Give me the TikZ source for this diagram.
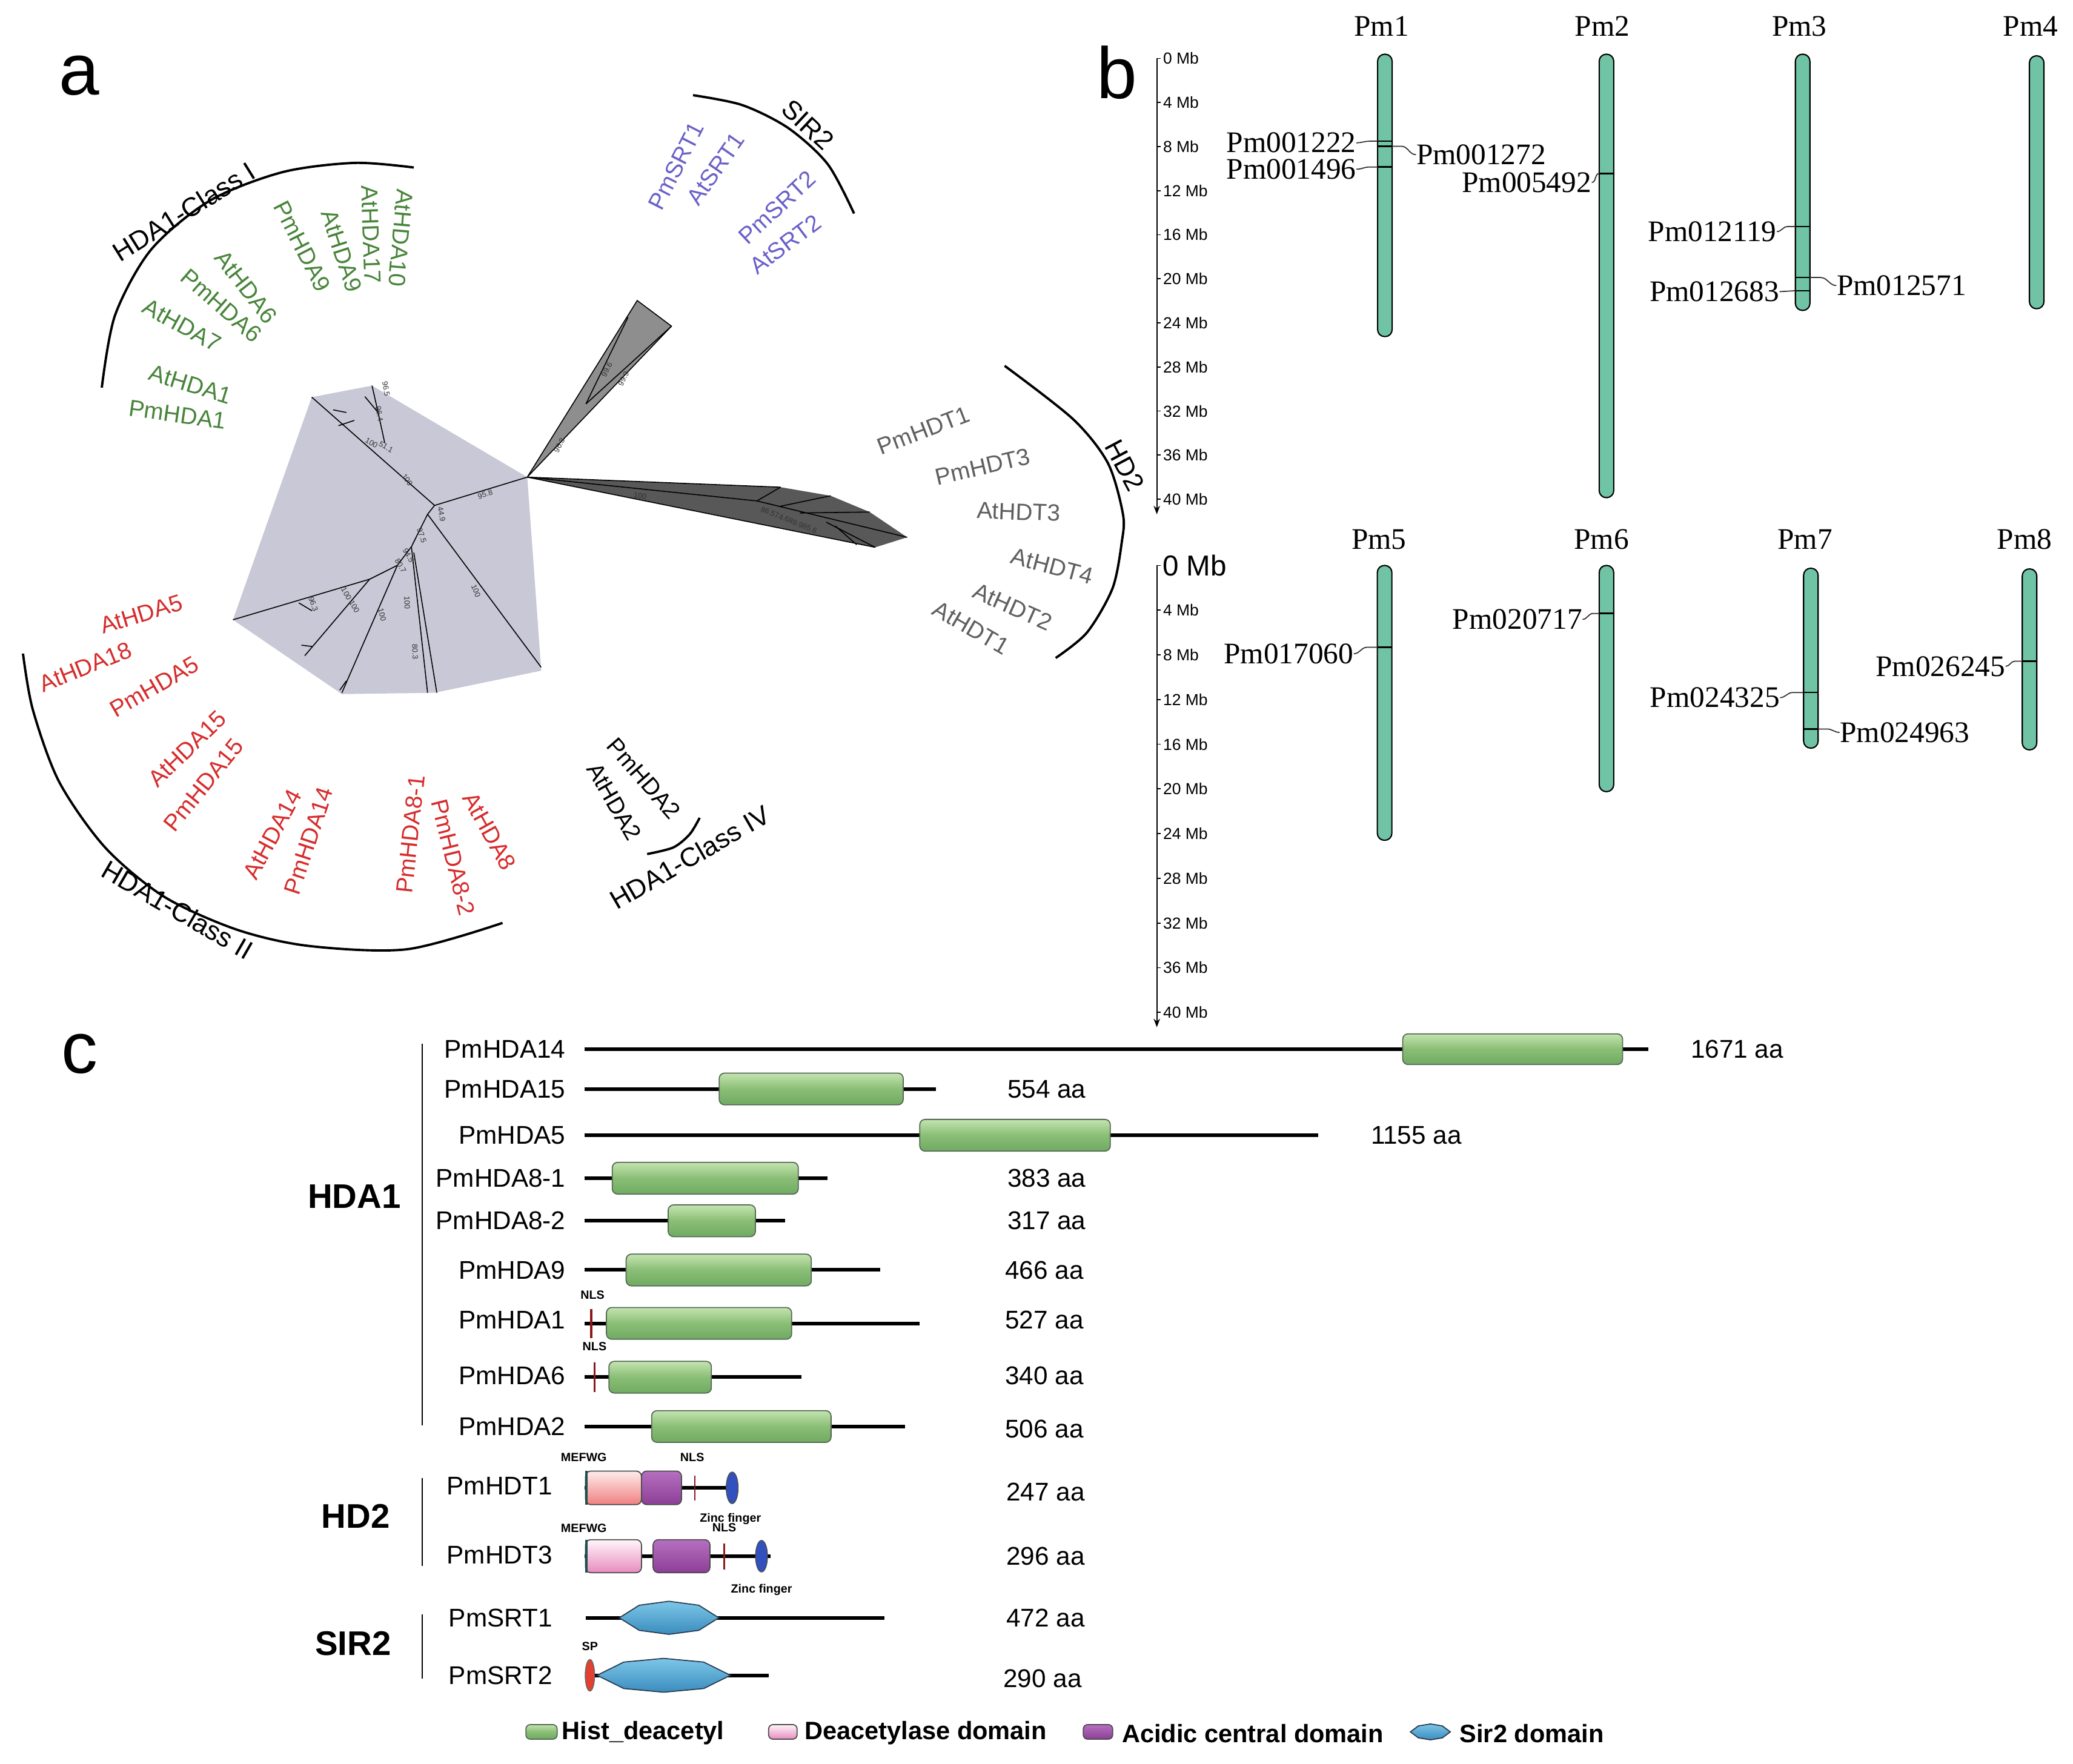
\documentclass[tikz,border=0pt]{standalone}
\usepackage{fontspec}
\setmainfont{Liberation Sans}
\newfontfamily\tms{Liberation Serif}
\usetikzlibrary{arrows.meta}
\definecolor{tgreen}{RGB}{72,132,58}
\definecolor{tred}{RGB}{214,44,44}
\definecolor{tpurple}{RGB}{106,96,200}
\definecolor{tgray}{RGB}{95,95,95}
\definecolor{cladeL}{RGB}{200,200,214}
\definecolor{cladeM}{RGB}{142,142,142}
\definecolor{cladeD}{RGB}{88,88,88}
\definecolor{chromc}{RGB}{112,196,165}
\definecolor{hgTop}{RGB}{196,228,176}
\definecolor{hgMid}{RGB}{138,190,118}
\definecolor{hgBot}{RGB}{112,170,98}
\definecolor{hgEdge}{RGB}{85,105,85}
\definecolor{pkTopA}{RGB}{255,236,236}
\definecolor{pkBotA}{RGB}{240,128,128}
\definecolor{pkTopB}{RGB}{255,245,250}
\definecolor{pkBotB}{RGB}{232,140,190}
\definecolor{puTop}{RGB}{182,112,192}
\definecolor{puBot}{RGB}{140,62,150}
\definecolor{sTop}{RGB}{125,198,232}
\definecolor{sBot}{RGB}{58,140,190}
\definecolor{sEdge}{RGB}{40,60,80}
\definecolor{nlsc}{RGB}{140,24,24}
\definecolor{mefc}{RGB}{30,80,80}
\definecolor{znc}{RGB}{50,80,190}
\definecolor{spc}{RGB}{225,65,50}
\begin{document}
\begin{tikzpicture}[x=0.6196pt,y=-0.6196pt,
 leaf/.style={inner sep=0pt, font=\fontsize{11}{11}\selectfont},
 cls/.style={inner sep=0pt, font=\fontsize{12.5}{12.5}\selectfont},
 boot/.style={inner sep=0pt, text=black!80, font=\fontsize{3.6}{3.6}\selectfont},
 br/.style={line width=0.45pt, black},
 arcl/.style={line width=1.1pt, black},
 panel/.style={inner sep=0pt, font=\fontsize{34}{34}\selectfont},
 chr/.style={draw=black, line width=0.6pt, fill=chromc, rounded corners=3.3pt},
 glab/.style={inner sep=0pt, font=\tms\fontsize{14}{14}\selectfont},
 gl/.style={line width=0.5pt, black!80},
 mk/.style={line width=0.7pt, black},
 mb/.style={inner sep=0pt, anchor=west, font=\fontsize{7.5}{7.5}\selectfont},
 pname/.style={inner sep=0pt, anchor=east, font=\fontsize{12}{12}\selectfont},
 aa/.style={inner sep=0pt, anchor=west, font=\fontsize{12}{12}\selectfont},
 fam/.style={inner sep=0pt, font=\bfseries\fontsize{16}{16}\selectfont},
 tiny/.style={inner sep=0pt, font=\bfseries\fontsize{5.6}{5.6}\selectfont},
 leg/.style={inner sep=0pt, anchor=west, font=\bfseries\fontsize{11.8}{11.8}\selectfont},
 pline/.style={line width=1.7pt, black},
 hbox/.style={draw=hgEdge, line width=0.5pt, rounded corners=2.5pt, top color=hgTop, bottom color=hgBot, middle color=hgMid},
 pboxa/.style={draw=black!70, line width=0.5pt, rounded corners=2.5pt, top color=pkTopA, bottom color=pkBotA},
 pboxb/.style={draw=black!70, line width=0.5pt, rounded corners=2.5pt, top color=pkTopB, bottom color=pkBotB},
 ubox/.style={draw=black!70, line width=0.5pt, rounded corners=2.5pt, top color=puTop, bottom color=puBot},
 sbox/.style={draw=sEdge, line width=0.5pt, top color=sTop, bottom color=sBot},
 nls/.style={line width=1pt, nlsc},
]
\useasboundingbox (0,0) rectangle (1568,1334);

% ---------------- panel a ----------------
\node[panel] (pa) at (60,57) {a};
% clades
\fill[cladeL] (235.8,300.4) -- (281.4,291.7) -- (398.8,360.9) -- (409.4,507.3) -- (328.7,524) -- (258.6,525) -- (176.2,468.8) -- cycle;
\fill[cladeM] (398.8,360.9) -- (482,227.3) -- (507.9,246.7) -- cycle;
\draw[br] (398.8,360.9) -- (482,227.3) -- (507.9,246.7) -- (398.8,360.9);
\draw[br] (443.2,305.5) -- (507.9,246.7);
\draw[br] (443.2,305.5) -- (475,240);
\fill[cladeD] (398.8,360.9) -- (590.4,368.5) -- (628.3,375) -- (657.8,387.3) -- (686.2,406.4) -- (662,414) -- cycle;
\draw[br] (398.8,360.9) -- (590.4,368.5);
\draw[br] (398.8,360.9) -- (662,414);
\draw[br] (398.8,360.9) -- (572.5,378.9) -- (686.2,406.4);
\draw[br] (572.5,378.9) -- (590.4,368.5);
\draw[br] (590,383) -- (628.3,375);
\draw[br] (605,388) -- (657.8,387.3);
\draw[br] (625,395) -- (662,414);
\draw[br] (632,398) -- (648,412);
% light clade branches
\draw[br] (398.8,360.9) -- (328.7,382.3) -- (235.8,300.4);
\draw[br] (291,335) -- (286,312) -- (281.4,291.7);
\draw[br] (286,312) -- (276,300);
\draw[br] (268,318) -- (256,322);
\draw[br] (262,312) -- (252,310);
\draw[br] (328.7,382.3) -- (323.4,389) -- (311.2,413.5) -- (300.6,427.6) -- (279.6,438.1) -- (176.2,468.8);
\draw[br] (323.4,389) -- (409.3,504.7);
\draw[br] (311.2,413.5) -- (323.4,524);
\draw[br] (313,418) -- (330.4,524);
\draw[br] (300.6,427.6) -- (258.6,524);
\draw[br] (262,515) -- (257,522);
\draw[br] (279.6,438.1) -- (230.5,496);
\draw[br] (236,489) -- (228,488);
\draw[br] (226,456) -- (236,462);
% bootstrap values
\node[boot, rotate=17] (b1) at (367,374) {95.8};
\node[boot, rotate=-55] (b2) at (308,363) {100};
\node[boot, rotate=-30] (b3) at (281,335) {100};
\node[boot, rotate=-30] (b4) at (292,338) {51.1};
\node[boot, rotate=-80] (b5) at (292,294) {96.5};
\node[boot, rotate=-80] (b6) at (287,313) {96.4};
\node[boot, rotate=-80] (b7) at (334,389) {44.9};
\node[boot, rotate=-70] (b8) at (319,405) {97.5};
\node[boot, rotate=-60] (b9) at (303,428) {80.7};
\node[boot, rotate=-60] (b10) at (309,420) {94.5};
\node[boot, rotate=-68] (b11) at (360,447) {100};
\node[boot, rotate=-88] (b12) at (308,456) {100};
\node[boot, rotate=-88] (b13) at (314,493) {80.3};
\node[boot, rotate=-75] (b14) at (289,465) {100};
\node[boot, rotate=-60] (b15) at (268,459) {100};
\node[boot, rotate=-60] (b16) at (262,449) {100};
\node[boot, rotate=-70] (b17) at (237,457) {96.3};
\node[boot, rotate=63] (b18) at (423.1,336.9) {96.3};
\node[boot, rotate=63] (b19) at (459,279.6) {99.6};
\node[boot, rotate=63] (b20) at (471.6,286.4) {99.9};
\node[boot, rotate=-8] (b21) at (484.2,375) {100};
\node[boot, rotate=-22] (b22) at (596.7,393.4) {86.574.689.985.6};

% class I
\node[leaf, text=tgreen, rotate=-8] (l1) at (134.2,313.5) {PmHDA1};
\node[leaf, text=tgreen, rotate=-17] (l2) at (144.1,290.7) {AtHDA1};
\node[leaf, text=tgreen, rotate=-29] (l3) at (137.6,246) {AtHDA7};
\node[leaf, text=tgreen, rotate=-41] (l4) at (167.5,231) {PmHDA6};
\node[leaf, text=tgreen, rotate=-52] (l5) at (186.3,217.1) {AtHDA6};
\node[leaf, text=tgreen, rotate=-63] (l6) at (228.6,186.3) {PmHDA9};
\node[leaf, text=tgreen, rotate=-72] (l7) at (258.4,189.8) {AtHDA9};
\node[leaf, text=tgreen, rotate=-88] (l8) at (280.7,177.4) {AtHDA17};
\node[leaf, text=tgreen, rotate=-95] (l9) at (303.1,179.9) {AtHDA10};
\draw[arcl] plot[smooth] coordinates {(77,293.2) (87,238.5) (114.3,188.8) (159,151.6) (213.7,130.2) (268.3,123.2) (313,126.7)};
\node[cls, rotate=32] (c1) at (139.1,160) {HDA1-Class I};
% SIR2
\node[leaf, text=tpurple, rotate=63] (s1) at (511.5,125.5) {PmSRT1};
\node[leaf, text=tpurple, rotate=55] (s2) at (541.4,127.7) {AtSRT1};
\node[leaf, text=tpurple, rotate=43] (s3) at (587.9,156.9) {PmSRT2};
\node[leaf, text=tpurple, rotate=37] (s4) at (594,184.7) {AtSRT2};
\draw[arcl] plot[smooth] coordinates {(524.2,72) (561.5,79.5) (596.3,96.9) (626.1,124.2) (646,161.5)};
\node[cls, rotate=-43] (c2) at (611,94.4) {SIR2};
% HD2
\node[leaf, text=tgray, rotate=21] (h1) at (698.5,325.7) {PmHDT1};
\node[leaf, text=tgray, rotate=13] (h2) at (743.2,352.9) {PmHDT3};
\node[leaf, text=tgray, rotate=-2] (h3) at (770.4,387.1) {AtHDT3};
\node[leaf, text=tgray, rotate=-15] (h4) at (795.8,428.3) {AtHDT4};
\node[leaf, text=tgray, rotate=-24] (h5) at (766,459) {AtHDT2};
\node[leaf, text=tgray, rotate=-30] (h6) at (734.5,474.8) {AtHDT1};
\draw[arcl] plot[smooth] coordinates {(759.9,276.7) (811.6,317) (838,350.3) (849.4,389) (848.5,410) (841.5,445) (822.2,478.4) (798.5,497.7)};
\node[cls, rotate=-62] (c3) at (851,352) {HD2};
% class II
\node[leaf, text=tred, rotate=17] (r1) at (106.8,464.6) {AtHDA5};
\node[leaf, text=tred, rotate=22] (r2) at (64.6,504.4) {AtHDA18};
\node[leaf, text=tred, rotate=30] (r3) at (116.8,519.3) {PmHDA5};
\node[leaf, text=tred, rotate=44] (r4) at (141.6,566.5) {AtHDA15};
\node[leaf, text=tred, rotate=51] (r5) at (154,593.8) {PmHDA15};
\node[leaf, text=tred, rotate=62] (r6) at (206.2,631) {AtHDA14};
\node[leaf, text=tred, rotate=72] (r7) at (233.5,636) {PmHDA14};
\node[leaf, text=tred, rotate=84] (r8) at (310.6,631) {PmHDA8-1};
\node[leaf, text=tred, rotate=-76] (r9) at (342.9,648.5) {PmHDA8-2};
\node[leaf, text=tred, rotate=-61] (r10) at (370.2,628.6) {AtHDA8};
\draw[arcl] plot[smooth] coordinates {(17.4,494.4) (24.8,536.7) (44.7,591.3) (79.5,641) (124.2,678.3) (178.9,703.1) (233.5,715.5) (308,718) (380.1,698.1)};
\node[cls, rotate=-30] (c4) at (134.2,688.2) {HDA1-Class II};
% class IV
\node[leaf, rotate=-49] (k1) at (487,588.8) {PmHDA2};
\node[leaf, rotate=-60] (k2) at (464.6,606.2) {AtHDA2};
\draw[arcl] plot[smooth] coordinates {(489.5,646) (509.3,641) (521.7,631) (529.2,618.6)};
\node[cls, rotate=30] (c5) at (521.7,648.5) {HDA1-Class IV};

% ---------------- panel b ----------------
\node[panel] (pb) at (845,55) {b};
\draw[line width=0.6pt, -{Stealth[length=4pt,width=3pt]}] (875,44.2) -- (875,389);
\foreach \i in {0,...,10} {
  \pgfmathsetmacro\yy{44.2+\i*33.34}
  \pgfmathtruncatemacro\mv{4*\i}
  \draw[line width=0.5pt] (875,\yy) -- (878,\yy);
  \node[mb] (mu\i) at (879.5,\yy) {\mv\ Mb};
}
\draw[line width=0.6pt, -{Stealth[length=4pt,width=3pt]}] (875,427.7) -- (875,777);
\draw[line width=0.5pt] (875,427.7) -- (878,427.7);
\node[inner sep=0pt, anchor=west, font=\fontsize{13.5}{13.5}\selectfont] (ml0) at (879,427.7) {0 Mb};
\foreach \i in {1,...,10} {
  \pgfmathsetmacro\yy{427.7+\i*33.81}
  \pgfmathtruncatemacro\mv{4*\i}
  \draw[line width=0.5pt] (875,\yy) -- (878,\yy);
  \node[mb] (ml\i) at (879.5,\yy) {\mv\ Mb};
}
% chromosome titles
\node[glab] (t1) at (1045,20) {Pm1};
\node[glab] (t2) at (1212,20) {Pm2};
\node[glab] (t3) at (1361,20) {Pm3};
\node[glab] (t4) at (1536,20) {Pm4};
\node[glab] (t5) at (1043,408) {Pm5};
\node[glab] (t6) at (1211.4,408) {Pm6};
\node[glab] (t7) at (1365.3,408) {Pm7};
\node[glab] (t8) at (1531.3,408) {Pm8};
% chromosomes
\draw[chr] (1042,41) rectangle (1053,254.6);
\draw[chr] (1209.6,41) rectangle (1220.6,376.4);
\draw[chr] (1358,41) rectangle (1369,234.8);
\draw[chr] (1535,42.2) rectangle (1546,233.5);
\draw[chr] (1041.8,427.7) rectangle (1052.8,635.6);
\draw[chr] (1209.6,427.7) rectangle (1220.6,598.8);
\draw[chr] (1364.2,429.8) rectangle (1375.2,565.9);
\draw[chr] (1529.6,430.3) rectangle (1540.6,567.2);
% genes
\node[glab, anchor=east] (g1) at (1026,108) {Pm001222};
\draw[gl] (g1.east) to[out=0,in=180] (1036,106.8) -- (1042,106.8); \draw[mk] (1042,106.8) -- (1053,106.8);
\node[glab, anchor=west] (g2) at (1071,117) {Pm001272};
\draw[mk] (1042,110.6) -- (1053,110.6); \draw[gl] (1053,110.6) -- (1060,110.6) to[out=0,in=180] (g2.west);
\node[glab, anchor=east] (g3) at (1026,128) {Pm001496};
\draw[gl] (g3.east) to[out=0,in=180] (1036,126.3) -- (1042,126.3); \draw[mk] (1042,126.3) -- (1053,126.3);
\node[glab, anchor=east] (g4) at (1204,138) {Pm005492};
\draw[gl] (g4.east) to[out=0,in=180] (1209.6,131.2); \draw[mk] (1209.6,131.2) -- (1220.6,131.2);
\node[glab, anchor=east] (g5) at (1344,175.2) {Pm012119};
\draw[gl] (g5.east) to[out=0,in=180] (1352,171.4) -- (1358,171.4); \draw[mk] (1358,171.4) -- (1369,171.4);
\node[glab, anchor=west] (g6) at (1389,216) {Pm012571};
\draw[mk] (1358,209.9) -- (1369,209.9); \draw[gl] (1369,209.9) -- (1377,209.9) to[out=0,in=180] (g6.west);
\node[glab, anchor=east] (g7) at (1346,220.6) {Pm012683};
\draw[gl] (g7.east) -- (1358,219.9); \draw[mk] (1358,219.9) -- (1369,219.9);
\node[glab, anchor=east] (g8) at (1024,494.5) {Pm017060};
\draw[gl] (g8.east) to[out=0,in=180] (1034,489.6) -- (1041.8,489.6); \draw[mk] (1041.8,489.6) -- (1052.8,489.6);
\node[glab, anchor=east] (g9) at (1197,468.5) {Pm020717};
\draw[gl] (g9.east) to[out=0,in=180] (1205,464) -- (1209.6,464); \draw[mk] (1209.6,464) -- (1220.6,464);
\node[glab, anchor=east] (g10) at (1346.4,527.7) {Pm024325};
\draw[gl] (g10.east) to[out=0,in=180] (1356,523.8) -- (1364.2,523.8); \draw[mk] (1364.2,523.8) -- (1375.2,523.8);
\node[glab, anchor=west] (g11) at (1391.4,554) {Pm024963};
\draw[mk] (1364.2,551.4) -- (1375.2,551.4); \draw[gl] (1375.2,551.4) -- (1382,551.4) to[out=0,in=180] (g11.west);
\node[glab, anchor=east] (g12) at (1517.1,504) {Pm026245};
\draw[gl] (g12.east) to[out=0,in=180] (1524,500.1) -- (1529.6,500.1); \draw[mk] (1529.6,500.1) -- (1540.6,500.1);

% ---------------- panel c ----------------
\node[panel] (pc) at (60,797) {c};
\node[fam] (f1) at (268,905) {HDA1};
\node[fam] (f2) at (269,1147) {HD2};
\node[fam] (f3) at (267,1243) {SIR2};
\draw[line width=0.6pt] (319.5,789.6) -- (319.5,1078);
\draw[line width=0.6pt] (319.5,1118) -- (319.5,1184.4);
\draw[line width=0.6pt] (319.5,1221.3) -- (319.5,1269.7);

% HDA1 rows
\node[pname] (n1) at (428,793.6) {PmHDA14};
\draw[pline] (442,793.6) -- (1247,793.6);
\draw[hbox] (1061,782) rectangle (1227.3,805.2);
\node[aa] (a1) at (1278.6,793.6) {1671 aa};

\node[pname] (n2) at (428,823.7) {PmHDA15};
\draw[pline] (442,823.7) -- (708,823.7);
\draw[hbox] (544,811.7) rectangle (683.2,835.7);
\node[aa] (a2) at (761.7,823.7) {554 aa};

\node[pname] (n3) at (428,858.7) {PmHDA5};
\draw[pline] (442,858.7) -- (997.2,858.7);
\draw[hbox] (695.7,846.7) rectangle (839.8,870.7);
\node[aa] (a3) at (1036.6,858.7) {1155 aa};

\node[pname] (n4) at (428,891.2) {PmHDA8-1};
\draw[pline] (442,891.2) -- (626,891.2);
\draw[hbox] (463.1,879.2) rectangle (603.8,903.2);
\node[aa] (a4) at (761.7,891.2) {383 aa};

\node[pname] (n5) at (428,923.4) {PmHDA8-2};
\draw[pline] (442,923.4) -- (593.8,923.4);
\draw[hbox] (505.4,911.4) rectangle (571.4,935.4);
\node[aa] (a5) at (761.7,923.4) {317 aa};

\node[pname] (n6) at (428,960.6) {PmHDA9};
\draw[pline] (442,960.6) -- (665.9,960.6);
\draw[hbox] (473.6,948.6) rectangle (613.7,972.6);
\node[aa] (a6) at (760,960.6) {466 aa};

\node[pname] (n7) at (428,998.5) {PmHDA1};
\draw[pline] (442,1001) -- (695.7,1001);
\draw[nls] (447.2,990) -- (447.2,1012);
\draw[hbox] (458.7,989) rectangle (598.8,1013);
\node[tiny] (x1) at (448.2,979.3) {NLS};
\node[aa] (a7) at (760,998.5) {527 aa};

\node[pname] (n8) at (428,1040.5) {PmHDA6};
\draw[pline] (442,1041.7) -- (606.2,1041.7);
\draw[nls] (449.7,1030.5) -- (449.7,1053);
\draw[hbox] (460.6,1029.7) rectangle (538.1,1053.7);
\node[tiny] (x2) at (449.7,1018.3) {NLS};
\node[aa] (a8) at (760,1040.5) {340 aa};

\node[pname] (n9) at (428,1079) {PmHDA2};
\draw[pline] (442,1079) -- (684.7,1079);
\draw[hbox] (492.9,1067) rectangle (628.6,1091);
\node[aa] (a9) at (760,1081) {506 aa};

% HD2 rows
\node[pname] (n10) at (418,1124) {PmHDT1};
\draw[pline] (442,1125.4) -- (552.5,1125.4);
\draw[pboxa] (442.9,1112.7) rectangle (485.2,1138.1);
\draw[ubox] (485.2,1112.7) rectangle (515.5,1138.1);
\draw[line width=1.2pt, mefc] (443.4,1112.7) -- (443.4,1138.1);
\draw[line width=0.7pt, nlsc] (525.6,1116) -- (525.6,1135);
\draw[draw=black!70, fill=znc, line width=0.4pt] (553.8,1125.4) ellipse [x radius=2.8pt, y radius=7.4pt];
\node[tiny] (x3) at (441.6,1102.4) {MEFWG};
\node[tiny] (x4) at (523.6,1102.4) {NLS};
\node[tiny] (x5) at (552.5,1149.1) {Zinc finger};
\node[aa] (a10) at (760.9,1128.7) {247 aa};

\node[pname] (n11) at (418,1176) {PmHDT3};
\draw[pline] (442,1177.1) -- (582.7,1177.1);
\draw[pboxb] (442.9,1164.6) rectangle (485.2,1189.6);
\draw[ubox] (494,1164.6) rectangle (537,1189.6);
\draw[line width=1.2pt, mefc] (443.4,1164.6) -- (443.4,1189.6);
\draw[line width=0.7pt, nlsc] (547.8,1167.5) -- (547.8,1187);
\draw[draw=black!70, fill=znc, line width=0.4pt] (576,1177.1) ellipse [x radius=2.8pt, y radius=7.4pt];
\node[tiny] (x6) at (441.6,1155.7) {MEFWG};
\node[tiny] (x7) at (547.8,1155.5) {NLS};
\node[tiny] (x8) at (576,1202.4) {Zinc finger};
\node[aa] (a11) at (760.9,1177.1) {296 aa};

% SIR2 rows
\node[pname] (n12) at (418,1223.7) {PmSRT1};
\draw[pline] (442.9,1223.7) -- (668.8,1223.7);
\draw[sbox] (468.4,1223.7) -- (483.5,1214.2) -- (506,1211.2) -- (528.6,1214.2) -- (543.7,1223.7) -- (528.6,1233.2) -- (506,1236.2) -- (483.5,1233.2) -- cycle;
\node[aa] (a12) at (760.9,1223.7) {472 aa};

\node[pname] (n13) at (418,1267.2) {PmSRT2};
\draw[pline] (446,1267.2) -- (581.4,1267.2);
\draw[sbox] (451.6,1267.2) -- (471.8,1257.2) -- (502,1254.4) -- (532.3,1257.2) -- (552.5,1267.2) -- (532.3,1277.2) -- (502,1280) -- (471.8,1277.2) -- cycle;
\draw[draw=black!60, fill=spc, line width=0.4pt] (446.2,1267.2) ellipse [x radius=2.2pt, y radius=7.4pt];
\node[tiny] (x9) at (446.2,1245.1) {SP};
\node[aa] (a13) at (758.6,1269.7) {290 aa};

% legend
\draw[hbox, rounded corners=2pt] (397.8,1304.5) rectangle (421.4,1315.5);
\node[leg] (e1) at (424.7,1311) {Hist\_deacetyl};
\draw[pboxb, rounded corners=2pt] (581.4,1304.5) rectangle (602.9,1315.5);
\node[leg] (e2) at (608.3,1311) {Deacetylase domain};
\draw[ubox, rounded corners=2pt] (819.4,1304.5) rectangle (841.6,1315.5);
\node[leg] (e3) at (848.3,1311) {Acidic central domain};
\draw[sbox] (1066.8,1310) -- (1072.8,1305.5) -- (1082,1304) -- (1091,1305.5) -- (1097,1310) -- (1091,1314.5) -- (1082,1316) -- (1072.8,1314.5) -- cycle;
\node[leg] (e4) at (1103.8,1311) {Sir2 domain};
\end{tikzpicture}
\end{document}
